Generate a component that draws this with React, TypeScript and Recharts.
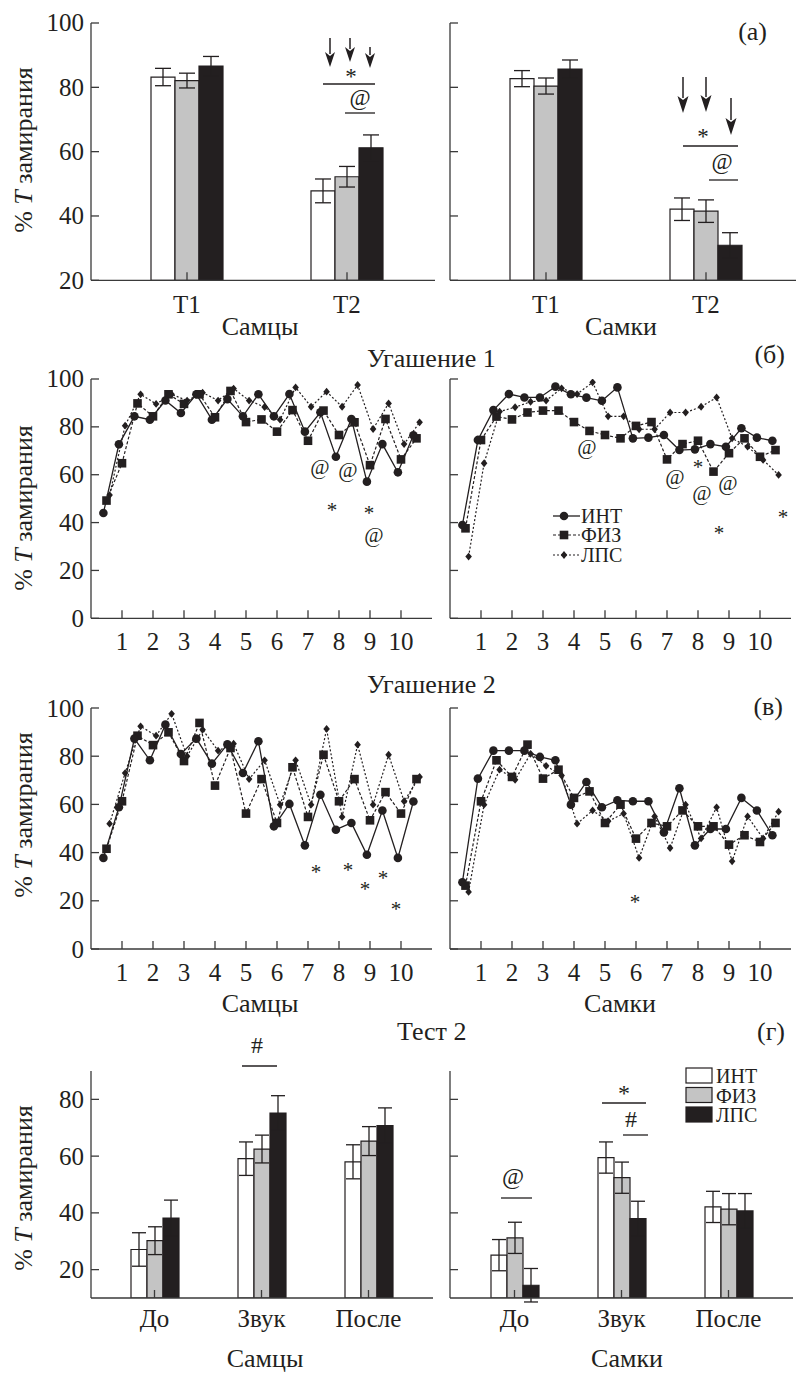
import React from 'react';
import { BarChart, Bar, ErrorBar, LineChart, Line, XAxis, YAxis } from 'recharts';

const FONT = 'Liberation Serif';
const INK = '#231f20';
const AXIS = '#3a3a3a';
const GRAY = '#c4c4c4';

// ---------------- data: Test 1 (panel а)
const TEST1_CATS = ['T1', 'T2'];
const T1_M_INT = [83.2, 47.8];
const T1_M_INT_ERR = [2.7, 3.7];
const T1_M_FIZ = [82.1, 52.2];
const T1_M_FIZ_ERR = [2.3, 3.2];
const T1_M_LPS = [86.6, 61.2];
const T1_M_LPS_ERR = [3.0, 4.0];
const T1_F_INT = [82.7, 42.1];
const T1_F_INT_ERR = [2.5, 3.5];
const T1_F_FIZ = [80.4, 41.5];
const T1_F_FIZ_ERR = [2.5, 3.5];
const T1_F_LPS = [85.7, 30.9];
const T1_F_LPS_ERR = [2.8, 3.9];

// ---------------- data: Test 2 (panel г)
const TEST2_CATS = ['До', 'Звук', 'После'];
const T2_M_INT = [27.1, 59.1, 58.0];
const T2_M_INT_ERR = [5.9, 5.9, 6.0];
const T2_M_FIZ = [30.2, 62.5, 65.3];
const T2_M_FIZ_ERR = [4.9, 4.9, 5.1];
const T2_M_LPS = [38.2, 75.2, 70.8];
const T2_M_LPS_ERR = [6.3, 6.1, 6.2];
const T2_F_INT = [25.1, 59.5, 42.1];
const T2_F_INT_ERR = [5.5, 5.5, 5.5];
const T2_F_FIZ = [31.2, 52.4, 41.3];
const T2_F_FIZ_ERR = [5.5, 5.5, 5.5];
const T2_F_LPS = [14.5, 38.0, 40.7];
const T2_F_LPS_ERR = [5.9, 6.1, 6.1];

// ---------------- data: extinction sessions (panels б, в)
const TRIALS = [0.5, 1, 1.5, 2, 2.5, 3, 3.5, 4, 4.5, 5, 5.5, 6, 6.5, 7, 7.5, 8, 8.5, 9, 9.5, 10, 10.5];
const TRIAL_TICKS = [1, 2, 3, 4, 5, 6, 7, 8, 9, 10];

const E1_M_INT = [44, 72.7, 84.4, 83, 91, 85.8, 93.6, 83, 91.6, 84.4, 93.6, 84.4, 93.7, 78, 86.1, 67.5, 83.3, 57.1, 72.8, 61, 76.5];
const E1_M_FIZ = [49.2, 64.8, 89.8, 84.4, 93.6, 89.6, 93.6, 84, 95, 82, 83.1, 78, 87, 74.2, 86.8, 76.6, 81.9, 64, 83.3, 66.4, 75.2];
const E1_M_LPS = [51.5, 80.5, 93.6, 89.6, 93.6, 91, 94.3, 91, 96, 91, 88.3, 83, 96.5, 88.4, 94.7, 88.4, 97.5, 79.1, 89.8, 72.8, 81.9];

const E1_F_INT = [39, 74.5, 87, 93.7, 92.3, 92.3, 96.8, 93.6, 92.2, 90.9, 96.5, 75.2, 75.5, 76.6, 70.3, 70.6, 72.8, 71.7, 79.4, 75.5, 74.2];
const E1_F_FIZ = [37.6, 74.5, 84.3, 83.1, 86, 86.8, 86.8, 82, 78.3, 76.6, 75.2, 80.4, 82, 66.4, 72.8, 74.2, 61.3, 69, 75.2, 67.5, 70.3];
const E1_F_LPS = [25.8, 64.8, 86.4, 88.2, 90.5, 91, 96.1, 93.7, 98.6, 84.4, 84.4, 79, 79, 86, 86, 88.4, 92.3, 75.2, 71.7, 66.2, 59.9];

const E2_M_INT = [37.8, 58.8, 87.3, 78.3, 93.1, 80.9, 87.3, 76.9, 84.9, 73, 86.2, 50.9, 60.2, 43, 64, 49.5, 52.3, 39.1, 57.5, 37.8, 61.2];
const E2_M_FIZ = [41.6, 61.3, 88.5, 84.6, 89.9, 78, 93.8, 67.8, 83.4, 56.2, 70.5, 52.3, 75.4, 54.8, 80.6, 61.3, 70.5, 53.4, 65.1, 56.2, 70.5];
const E2_M_LPS = [52, 73, 92.4, 88.5, 97.6, 80, 91, 82.3, 85.2, 70.5, 78.3, 59.9, 78.3, 59.9, 91.3, 54.8, 84.8, 59.9, 80.6, 61.3, 71.4];

const E2_F_INT = [27.7, 70.7, 82.3, 82.3, 82.3, 79.7, 78.3, 59.9, 69.3, 58.8, 61.7, 61.3, 61.3, 48.4, 66.7, 43, 49.8, 49.8, 62.7, 57.5, 47.2];
const E2_F_FIZ = [26.3, 61.3, 78.3, 71.4, 84.8, 70.7, 74.4, 62.7, 65.4, 52.3, 59.9, 45.8, 52.3, 50.9, 57.5, 50.9, 50.9, 43.3, 47.2, 44.4, 52.3];
const E2_F_LPS = [23.7, 59.9, 74.4, 70.2, 81, 76, 72, 52, 57.5, 53, 56.2, 37.8, 55, 41.9, 59.9, 45.9, 58.8, 36.4, 55, 45.9, 57];

// series x-offsets so the three groups don't overlap (as in the figure)
const OFFSET_INT = -0.1;
const OFFSET_FIZ = 0;
const OFFSET_LPS = 0.1;

type Row = { cat: string; int: number; fiz: number; lps: number; intErr: number; fizErr: number; lpsErr: number };

function rows(cats: string[], a: number[], ae: number[], b: number[], be: number[], c: number[], ce: number[]): Row[] {
  return cats.map((cat, i) => ({ cat, int: a[i], fiz: b[i], lps: c[i], intErr: ae[i], fizErr: be[i], lpsErr: ce[i] }));
}

function pts(vals: number[], off: number) {
  return vals.map((y, i) => ({ x: TRIALS[i] + off, y }));
}

// ---------------- ticks
function yTick(show: boolean, fs: number) {
  return (p: any) => (
    <g key={`yt-${p.index}`}>
      <line x1={p.x} y1={p.y} x2={p.x + 8} y2={p.y} stroke={AXIS} strokeWidth={1.3} />
      {show && (
        <text x={p.x - 7} y={p.y} dy="0.34em" textAnchor="end" fontSize={fs} fontFamily={FONT} fill={INK}>
          {p.payload.value}
        </text>
      )}
    </g>
  );
}

function xTick(dyBase: number, fs: number) {
  return (p: any) => (
    <g key={`xt-${p.index}`}>
      <line x1={p.x} y1={p.y} x2={p.x} y2={p.y - 8} stroke={AXIS} strokeWidth={1.3} />
      <text x={p.x} y={p.y + dyBase} textAnchor="middle" fontSize={fs} fontFamily={FONT} fill={INK}>
        {p.payload.value}
      </text>
    </g>
  );
}

const circleDot = (p: any) => <circle key={`c-${p.index}`} cx={p.cx} cy={p.cy} r={4.3} fill={INK} />;
const squareDot = (p: any) => <rect key={`s-${p.index}`} x={p.cx - 4.3} y={p.cy - 4.3} width={8.6} height={8.6} fill={INK} />;
const diamondDot = (p: any) => (
  <path key={`d-${p.index}`} d={`M${p.cx},${p.cy - 3.9}L${p.cx + 3.3},${p.cy}L${p.cx},${p.cy + 3.9}L${p.cx - 3.3},${p.cy}Z`} fill={INK} />
);

// ---------------- panels
type BarPanelProps = {
  l: number; r: number; t: number; b: number;
  data: Row[]; domain: [number, number]; ticks: number[]; showY: boolean;
  barSize: number; cap: number; padL: number; padR: number; tickDy: number;
};

function BarPanel({ l, r, t, b, data, domain, ticks, showY, barSize, cap, padL, padR, tickDy }: BarPanelProps) {
  const yW = 60, mt = 14, mr = 6, xh = 45;
  return (
    <div style={{ position: 'absolute', left: l - yW, top: t - mt }}>
      <BarChart width={r - l + yW + mr} height={b - t + mt + xh} data={data} margin={{ top: mt, right: mr, bottom: 0, left: 0 }} barGap={0} barSize={barSize}>
        <YAxis type="number" domain={domain} ticks={ticks} allowDataOverflow width={yW} interval={0}
          axisLine={{ stroke: AXIS, strokeWidth: 1.3 }} tickLine={false} tickSize={0} tickMargin={0} tick={yTick(showY, 25)} />
        <Bar dataKey="int" fill="#ffffff" stroke={INK} strokeWidth={1.2} isAnimationActive={false}>
          <ErrorBar dataKey="intErr" width={cap} stroke={INK} strokeWidth={1.3} />
        </Bar>
        <Bar dataKey="fiz" fill={GRAY} stroke={INK} strokeWidth={1.2} isAnimationActive={false}>
          <ErrorBar dataKey="fizErr" width={cap} stroke={INK} strokeWidth={1.3} />
        </Bar>
        <Bar dataKey="lps" fill={INK} stroke={INK} strokeWidth={1.2} isAnimationActive={false}>
          <ErrorBar dataKey="lpsErr" width={cap} stroke={INK} strokeWidth={1.3} />
        </Bar>
        <XAxis dataKey="cat" type="category" padding={{ left: padL, right: padR }} height={xh} interval={0}
          axisLine={{ stroke: AXIS, strokeWidth: 1.3 }} tickLine={false} tickSize={0} tickMargin={0} tick={xTick(tickDy, 25)} />
      </BarChart>
    </div>
  );
}

type LinePanelProps = { l: number; r: number; t: number; b: number; int: number[]; fiz: number[]; lps: number[]; showY: boolean };

function LinePanel({ l, r, t, b, int, fiz, lps, showY }: LinePanelProps) {
  const yW = 60, mt = 14, mr = 6, xh = 45;
  return (
    <div style={{ position: 'absolute', left: l - yW, top: t - mt }}>
      <LineChart width={r - l + yW + mr} height={b - t + mt + xh} margin={{ top: mt, right: mr, bottom: 0, left: 0 }}>
        <XAxis type="number" dataKey="x" domain={[0, 11]} ticks={TRIAL_TICKS} allowDataOverflow height={xh} interval={0}
          axisLine={{ stroke: AXIS, strokeWidth: 1.3 }} tickLine={false} tickSize={0} tickMargin={0} tick={xTick(32, 25)} />
        <YAxis type="number" domain={[0, 100]} ticks={[0, 20, 40, 60, 80, 100]} allowDataOverflow width={yW} interval={0}
          axisLine={{ stroke: AXIS, strokeWidth: 1.3 }} tickLine={false} tickSize={0} tickMargin={0} tick={yTick(showY, 25)} />
        <Line data={pts(lps, OFFSET_LPS)} dataKey="y" stroke={INK} strokeWidth={1.2} strokeDasharray="2 2" dot={diamondDot} activeDot={false} isAnimationActive={false} />
        <Line data={pts(fiz, OFFSET_FIZ)} dataKey="y" stroke={INK} strokeWidth={1.2} strokeDasharray="3 2" dot={squareDot} activeDot={false} isAnimationActive={false} />
        <Line data={pts(int, OFFSET_INT)} dataKey="y" stroke={INK} strokeWidth={1.3} dot={circleDot} activeDot={false} isAnimationActive={false} />
      </LineChart>
    </div>
  );
}

// ---------------- overlay (titles, annotations, legends)
const Txt = ({ x, y, s, fs = 26, anchor = 'middle' }: { x: number; y: number; s: string; fs?: number; anchor?: string }) => (
  <text x={x} y={y} fontSize={fs} fontFamily={FONT} fill={INK} textAnchor={anchor as any}>{s}</text>
);

const YLabel = ({ cy }: { cy: number }) => (
  <text transform={`rotate(-90 32 ${cy})`} x={32} y={cy} textAnchor="middle" fontSize={26} fontFamily={FONT} fill={INK}>
    % <tspan fontStyle="italic">T</tspan> замирания
  </text>
);

const Arrow = ({ x, y1, y2, hw = 5, hl = 15 }: { x: number; y1: number; y2: number; hw?: number; hl?: number }) => (
  <g>
    <line x1={x} y1={y1} x2={x} y2={y2 - hl + 2} stroke={INK} strokeWidth={1.5} />
    <path d={`M${x - hw},${y2 - hl} L${x},${y2 - hl + 4} L${x + hw},${y2 - hl} L${x},${y2} Z`} fill={INK} />
  </g>
);

const HLine = ({ x1, x2, y }: { x1: number; x2: number; y: number }) => (
  <line x1={x1} x2={x2} y1={y} y2={y} stroke={INK} strokeWidth={1.3} />
);

function Overlay() {
  return (
    <svg width={796} height={1374} style={{ position: 'absolute', left: 0, top: 0, pointerEvents: 'none' }}>
      {/* y labels */}
      <YLabel cy={150} />
      <YLabel cy={508} />
      <YLabel cy={815} />
      <YLabel cy={1188} />

      {/* panel а */}
      <Txt x={767} y={40} s="(а)" anchor="end" />
      <Txt x={260} y={335} s="Самцы" />
      <Txt x={621} y={335} s="Самки" />
      <Arrow x={330} y1={38} y2={67} />
      <Arrow x={350} y1={38} y2={62} />
      <Arrow x={370} y1={47} y2={68} />
      <Txt x={351} y={84} s="*" fs={23} />
      <HLine x1={323} x2={375} y={84} />
      <Txt x={360} y={105} s="@" fs={23} />
      <HLine x1={345} x2={375} y={113} />
      <Arrow x={683} y1={77} y2={113} hw={5.5} hl={17} />
      <Arrow x={706} y1={77} y2={112} hw={5.5} hl={17} />
      <Arrow x={731} y1={98} y2={135} hw={5.5} hl={17} />
      <Txt x={703} y={144} s="*" fs={23} />
      <HLine x1={683} x2={738} y={146} />
      <Txt x={722} y={169} s="@" fs={23} />
      <HLine x1={709} x2={738} y={180} />

      {/* panel б */}
      <Txt x={367} y={367} s="Угашение 1" anchor="start" />
      <Txt x={785} y={363} s="(б)" anchor="end" />
      <Txt x={320} y={473.6} s="@" fs={21} />
      <Txt x={348} y={477} s="@" fs={21} />
      <Txt x={332} y={517} s="*" fs={21} />
      <Txt x={369} y={520} s="*" fs={21} />
      <Txt x={374} y={542} s="@" fs={21} />
      <Txt x={587} y={454.3} s="@" fs={21} />
      <Txt x={675} y={483.6} s="@" fs={21} />
      <Txt x={698} y={474} s="*" fs={21} />
      <Txt x={702} y={499.6} s="@" fs={21} />
      <Txt x={728} y={490} s="@" fs={21} />
      <Txt x={719} y={539.6} s="*" fs={21} />
      <Txt x={783} y={523.6} s="*" fs={21} />
      {/* legend б */}
      <line x1={553} x2={580} y1={516} y2={516} stroke={INK} strokeWidth={1.3} />
      <circle cx={564} cy={516} r={4.3} fill={INK} />
      <Txt x={581} y={522.5} s="ИНТ" fs={20} anchor="start" />
      <line x1={553} x2={580} y1={535} y2={535} stroke={INK} strokeWidth={1.2} strokeDasharray="3 2" />
      <rect x={559.7} y={530.7} width={8.6} height={8.6} fill={INK} />
      <Txt x={581} y={542} s="ФИЗ" fs={20} anchor="start" />
      <line x1={553} x2={580} y1={555} y2={555} stroke={INK} strokeWidth={1.2} strokeDasharray="2 2" />
      <path d="M564,551.1L567.3,555L564,558.9L560.7,555Z" fill={INK} />
      <Txt x={581} y={561.5} s="ЛПС" fs={20} anchor="start" />

      {/* panel в */}
      <Txt x={367} y={693} s="Угашение 2" anchor="start" />
      <Txt x={783} y={715} s="(в)" anchor="end" />
      <Txt x={316} y={879} s="*" fs={21} />
      <Txt x={348} y={876.6} s="*" fs={21} />
      <Txt x={365} y={895.6} s="*" fs={21} />
      <Txt x={383} y={885} s="*" fs={21} />
      <Txt x={396} y={915.6} s="*" fs={21} />
      <Txt x={635} y={908.6} s="*" fs={21} />
      <Txt x={260} y={1012} s="Самцы" />
      <Txt x={620} y={1012} s="Самки" />

      {/* panel г */}
      <Txt x={397} y={1040} s="Тест 2" anchor="start" />
      <Txt x={785} y={1040} s="(г)" anchor="end" />
      <Txt x={257} y={1053} s="#" fs={24} />
      <HLine x1={242} x2={277} y={1066} />
      <Txt x={513} y={1184} s="@" fs={24} />
      <HLine x1={501} x2={532} y={1198} />
      <Txt x={624} y={1101} s="*" fs={24} />
      <HLine x1={602} x2={646} y={1103} />
      <Txt x={631} y={1127} s="#" fs={24} />
      <HLine x1={623} x2={648} y={1135} />
      {/* legend г */}
      <rect x={686} y={1068} width={26} height={15} fill="#ffffff" stroke={INK} strokeWidth={1.2} />
      <Txt x={716} y={1083} s="ИНТ" fs={20} anchor="start" />
      <rect x={686} y={1087.5} width={26} height={15} fill={GRAY} stroke={INK} strokeWidth={1.2} />
      <Txt x={716} y={1102.5} s="ФИЗ" fs={20} anchor="start" />
      <rect x={686} y={1107} width={26} height={15} fill={INK} stroke={INK} strokeWidth={1.2} />
      <Txt x={716} y={1122} s="ЛПС" fs={20} anchor="start" />
      <Txt x={265} y={1367} s="Самцы" />
      <Txt x={627} y={1367} s="Самки" />
    </svg>
  );
}

export default function App() {
  const t1m = rows(TEST1_CATS, T1_M_INT, T1_M_INT_ERR, T1_M_FIZ, T1_M_FIZ_ERR, T1_M_LPS, T1_M_LPS_ERR);
  const t1f = rows(TEST1_CATS, T1_F_INT, T1_F_INT_ERR, T1_F_FIZ, T1_F_FIZ_ERR, T1_F_LPS, T1_F_LPS_ERR);
  const t2m = rows(TEST2_CATS, T2_M_INT, T2_M_INT_ERR, T2_M_FIZ, T2_M_FIZ_ERR, T2_M_LPS, T2_M_LPS_ERR);
  const t2f = rows(TEST2_CATS, T2_F_INT, T2_F_INT_ERR, T2_F_FIZ, T2_F_FIZ_ERR, T2_F_LPS, T2_F_LPS_ERR);
  return (
    <div style={{ position: 'absolute', left: 0, top: 0, width: 796, height: 1374, background: '#ffffff', overflow: 'hidden', fontFamily: FONT }}>
      <BarPanel l={91} r={435} t={22.7} b={280} data={t1m} domain={[20, 100]} ticks={[20, 40, 60, 80, 100]} showY
        barSize={24} cap={8} padL={16} padR={8} tickDy={33} />
      <BarPanel l={450} r={797} t={22.7} b={280} data={t1f} domain={[20, 100]} ticks={[20, 40, 60, 80, 100]} showY={false}
        barSize={24} cap={8} padL={16} padR={11} tickDy={33} />

      <LinePanel l={91} r={432} t={379} b={618.3} int={E1_M_INT} fiz={E1_M_FIZ} lps={E1_M_LPS} showY />
      <LinePanel l={450} r={791} t={379} b={618.3} int={E1_F_INT} fiz={E1_F_FIZ} lps={E1_F_LPS} showY={false} />

      <LinePanel l={91} r={432} t={708.3} b={949.3} int={E2_M_INT} fiz={E2_M_FIZ} lps={E2_M_LPS} showY />
      <LinePanel l={450} r={791} t={708.3} b={949.3} int={E2_F_INT} fiz={E2_F_FIZ} lps={E2_F_LPS} showY={false} />

      <BarPanel l={91} r={433} t={1071} b={1298} data={t2m} domain={[10, 90]} ticks={[20, 40, 60, 80]} showY
        barSize={16} cap={7} padL={10} padR={11} tickDy={29} />
      <BarPanel l={450} r={793} t={1071} b={1298} data={t2f} domain={[10, 90]} ticks={[20, 40, 60, 80]} showY={false}
        barSize={16} cap={7} padL={11} padR={11} tickDy={29} />

      <Overlay />
    </div>
  );
}
